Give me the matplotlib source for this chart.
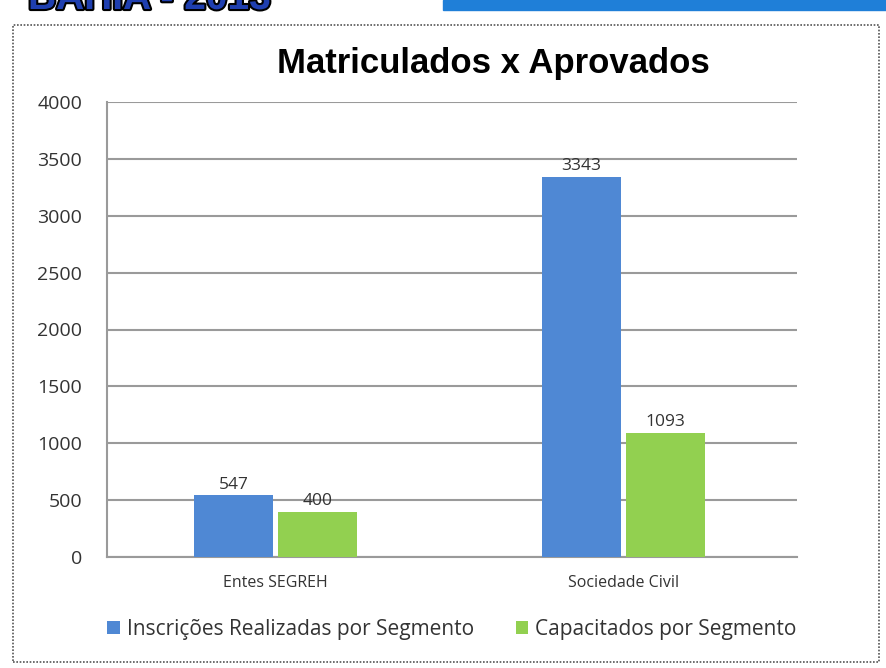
import matplotlib.pyplot as plt
import matplotlib.patheffects as pe
from matplotlib.patches import Rectangle
import numpy as np

# data
categories = ["Entes SEGREH", "Sociedade Civil"]
inscricoes = [547, 3343]
capacitados = [400, 1093]
series_names = ["Inscrições Realizadas por Segmento", "Capacitados por Segmento"]
yticks = [0, 500, 1000, 1500, 2000, 2500, 3000, 3500, 4000]

blue = "#4F88D4"
green = "#92D050"
grid_c = "#9a9a9a"
txt_c = "#333333"

W, H = 886, 668
fig = plt.figure(figsize=(W / 100, H / 100), dpi=100)

# header fragments clipped at top of slide
fig.text(28 / W, 1 - 9 / H, "BAHIA - 2013", fontsize=28, fontweight="bold",
         family="Liberation Sans", color="#1f3fb0", va="baseline",
         path_effects=[pe.withStroke(linewidth=3, foreground="black")])
fig.patches.append(Rectangle((443 / W, 1 - 10 / H), 1 - 443 / W, 10 / H,
                             transform=fig.transFigure, color="#1f7fd8", zorder=0))

# dotted frame around the chart
fig.patches.append(Rectangle((13 / W, 1 - 662 / H), 866 / W, 637 / H,
                             transform=fig.transFigure, fill=False,
                             edgecolor="#555555", linestyle=(0, (1, 1)), linewidth=1.2))

ax = fig.add_axes([107 / W, 1 - 557 / H, 690 / W, 455 / H])
x = np.arange(len(categories))
bw = 0.227
off = 0.121
b1 = ax.bar(x - off, inscricoes, bw, color=blue, label=series_names[0], zorder=3)
b2 = ax.bar(x + off, capacitados, bw, color=green, label=series_names[1], zorder=3)

for bars in (b1, b2):
    for r in bars:
        ax.text(r.get_x() + r.get_width() / 2, r.get_height() + 20, str(int(r.get_height())),
                ha="center", va="bottom", fontsize=12.5, color=txt_c, family="Open Sans")

ax.set_xlim(-0.485, 1.5)
ax.set_ylim(0, 4000)
ax.set_yticks(yticks)
ax.set_yticklabels([str(v) for v in yticks], fontsize=14, color=txt_c, family="Open Sans")
ax.set_xticks(x)
ax.set_xticklabels(categories, fontsize=11.5, color=txt_c, family="Open Sans")
ax.tick_params(axis="y", length=0, pad=18)
ax.tick_params(axis="x", length=0, pad=13)
ax.yaxis.grid(True, color=grid_c, linewidth=1.5, zorder=0)
for s in ("top", "right"):
    ax.spines[s].set_visible(False)
ax.spines["left"].set_color(grid_c)
ax.spines["left"].set_linewidth(1.5)
ax.spines["bottom"].set_color(grid_c)
ax.spines["bottom"].set_linewidth(1.5)

fig.text(493 / W, 1 - 63 / H, "Matriculados x Aprovados", ha="center", va="center",
         fontsize=25, fontweight="bold", family="Liberation Sans", color="black")

leg = fig.legend(handles=[b1, b2], labels=series_names, loc="center",
                 bbox_to_anchor=(452 / W, 1 - 629 / H), ncol=2, frameon=False,
                 prop={"family": "Open Sans", "size": 15}, handlelength=0.6,
                 handleheight=0.6, handletextpad=0.35, columnspacing=2.0)
for t in leg.get_texts():
    t.set_color(txt_c)

fig.savefig("out.png", dpi=100)
